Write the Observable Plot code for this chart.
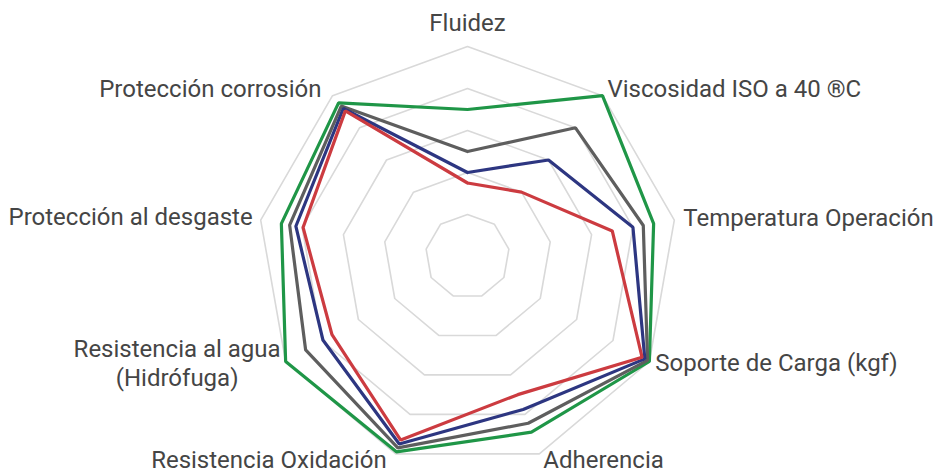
<!DOCTYPE html>
<html>
<head>
<meta charset="utf-8">
<script src="https://cdn.jsdelivr.net/npm/d3@7"></script>
<script src="https://cdn.jsdelivr.net/npm/@observablehq/plot@0.6"></script>
<style>
  html, body { margin: 0; padding: 0; background: #fff; }
  #chart svg { display: block; }
</style>
</head>
<body>
<div id="chart"></div>
<script>
// ---- data ----
const axes = [
  "Fluidez",
  "Viscosidad ISO a 40 ®C",
  "Temperatura Operación",
  "Soporte de Carga (kgf)",
  "Adherencia",
  "Resistencia Oxidación",
  "Resistencia al agua\n(Hidrófuga)",
  "Protección al desgaste",
  "Protección corrosión"
];
const seriesNames = ["Verde", "Gris", "Azul", "Rojo"];
const seriesColors = ["#1f9647", "#5e5e5e", "#2d3681", "#cc3b40"];
const greenValues = [7.0, 10.0, 9.0, 10.0, 8.9, 9.9, 10.0, 9.0, 9.55];
const grayValues  = [5.0, 8.0, 8.5, 9.9, 8.45, 9.7, 8.9, 8.6, 9.35];
const navyValues  = [4.0, 6.0, 8.0, 9.75, 7.75, 9.5, 7.95, 8.3, 9.2];
const redValues   = [3.5, 4.0, 7.0, 9.6, 7.0, 9.3, 7.45, 7.95, 9.05];
const ringLevels = [2, 4, 6, 8, 10];
const maxValue = 10;

// label placement styles: anchor, dx, dy (px offsets from outer vertex)
const labelStyles = [
  {anchor: "middle", dx: 0, dy: -23.0},
  {anchor: "start", dx: 5, dy: -6.7},
  {anchor: "start", dx: 9, dy: -1.9},
  {anchor: "start", dx: 6, dy: 2.3},
  {anchor: "start", dx: 4, dy: 6.7},
  {anchor: "end", dx: -9, dy: 6.7},
  {anchor: "centerblock", dx: -5, dy: 0.8},
  {anchor: "end", dx: -8, dy: -2.9},
  {anchor: "end", dx: -11, dy: -6}
];

// ---- geometry helpers ----
const n = axes.length;
const angle = i => (i * 2 * Math.PI) / n;
const px = (v, i) => v * Math.sin(angle(i));
const py = (v, i) => v * Math.cos(angle(i));

const allSeries = [greenValues, grayValues, navyValues, redValues];
const seriesPoints = [];
allSeries.forEach((vals, s) => {
  for (let k = 0; k <= n; k++) {
    const i = k % n;
    seriesPoints.push({series: seriesNames[s], x: px(vals[i], i), y: py(vals[i], i), order: s});
  }
});

const ringPoints = [];
ringLevels.forEach(l => {
  for (let k = 0; k <= n; k++) {
    const i = k % n;
    ringPoints.push({ring: l, x: px(l, i), y: py(l, i)});
  }
});

const fontSize = 24;
const fontFamily = "Roboto, 'Noto Sans', sans-serif";
const ctx = document.createElement("canvas").getContext("2d");
ctx.font = `${fontSize}px Roboto`;
const textWidth = s => Math.max(...s.split("\n").map(t => ctx.measureText(t).width));

const W = 939, H = 469;
const unit = 21; // px per value unit
const cx = 467, cy = 256;

const labelMarks = axes.map((label, i) => {
  const st = labelStyles[i];
  let textAnchor = st.anchor, dx = st.dx, lineHeight = 1;
  if (st.anchor === "centerblock") {
    textAnchor = "middle";
    dx = st.dx - textWidth(label) / 2;
    lineHeight = 1.18;
  }
  return Plot.text([{label, x: px(maxValue, i), y: py(maxValue, i)}], {
    x: "x", y: "y", text: "label",
    textAnchor, lineAnchor: "middle", lineHeight,
    dx, dy: st.dy,
    fontSize, fontFamily, fill: "#454545"
  });
});

const chart = Plot.plot({
  width: W,
  height: H,
  margin: 0,
  x: {domain: [-cx / unit, (W - cx) / unit], axis: null},
  y: {domain: [-(H - cy) / unit, cy / unit], axis: null},
  style: {background: "#fff", fontFamily},
  marks: [
    Plot.line(ringPoints, {x: "x", y: "y", z: "ring", stroke: "#d9d9d9", strokeWidth: 1.6, strokeLinejoin: "miter"}),
    Plot.line(seriesPoints, {
      x: "x", y: "y", z: "series",
      stroke: "series",
      strokeWidth: 3.2,
      strokeLinejoin: "miter"
    }),
    ...labelMarks
  ],
  color: {domain: seriesNames, range: seriesColors}
});

document.getElementById("chart").appendChild(chart);
</script>
</body>
</html>
